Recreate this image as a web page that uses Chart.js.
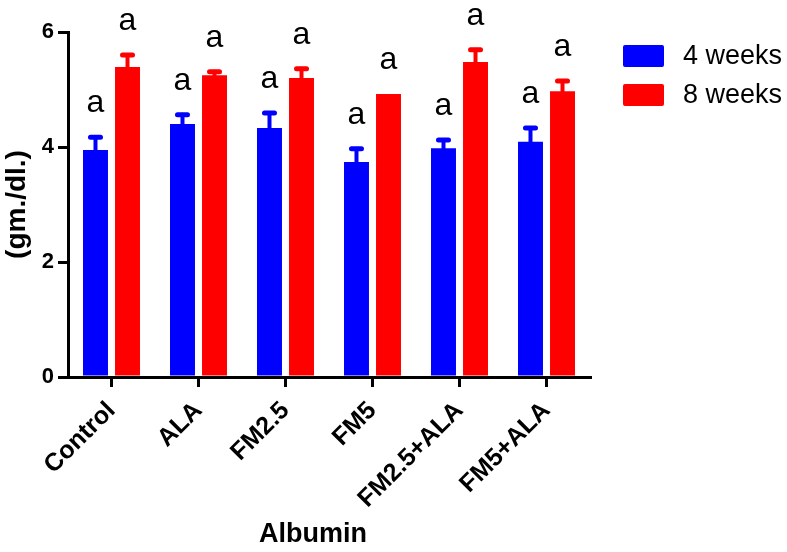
<!DOCTYPE html>
<html>
<head>
<meta charset="utf-8">
<script src="https://cdn.jsdelivr.net/npm/chart.js@4.4.0/dist/chart.umd.min.js"></script>
<style>
  html, body { margin: 0; padding: 0; background: #fff; }
  #albumin { display: block; }
</style>
</head>
<body>
<canvas id="albumin" width="787" height="552"></canvas>
<script>
// values (gm./dl.)
const groups = ['Control', 'ALA', 'FM2.5', 'FM5', 'FM2.5+ALA', 'FM5+ALA'];
const week4 = [3.95, 4.40, 4.33, 3.74, 3.98, 4.09];
const week4Err = [0.22, 0.16, 0.26, 0.23, 0.14, 0.24];
const week8 = [5.39, 5.25, 5.20, 4.92, 5.48, 4.97];
const week8Err = [0.21, 0.06, 0.16, 0.00, 0.21, 0.18];
const week4Marks = ['a', 'a', 'a', 'a', 'a', 'a'];
const week8Marks = ['a', 'a', 'a', 'a', 'a', 'a'];
const yTicks = [0, 2, 4, 6];
const xTitle = 'Albumin';

const FONT = 'Liberation Sans, Arial, Helvetica, sans-serif';

const errorBars = {
    id: 'errorBars',
    afterDatasetsDraw(chart) {
        const ctx = chart.ctx;
        const y = chart.scales.y;
        chart.data.datasets.forEach((ds, d) => {
            const meta = chart.getDatasetMeta(d);
            meta.data.forEach((bar, i) => {
                const top = y.getPixelForValue(ds.data[i] + ds.errors[i]);
                ctx.save();
                ctx.strokeStyle = ds.backgroundColor;
                ctx.lineCap = 'round';
                if (ds.errors[i] > 0) {
                    ctx.lineWidth = 4;
                    ctx.beginPath();
                    ctx.moveTo(bar.x, bar.y);
                    ctx.lineTo(bar.x, top);
                    ctx.stroke();
                    ctx.lineWidth = 5;
                    ctx.beginPath();
                    ctx.moveTo(bar.x - 5, top);
                    ctx.lineTo(bar.x + 5, top);
                    ctx.stroke();
                }
                ctx.fillStyle = '#000';
                ctx.font = '32px ' + FONT;
                ctx.textAlign = 'center';
                ctx.textBaseline = 'alphabetic';
                ctx.fillText(ds.marks[i], bar.x, top - 25);
                ctx.restore();
            });
        });
    }
};

// legend on the right and the x title (sits a little left of centre)
const extras = {
    id: 'extras',
    afterDraw(chart) {
        const ctx = chart.ctx;
        chart.data.datasets.forEach((ds, d) => {
            const top = 45 + d * 39;
            ctx.save();
            ctx.fillStyle = ds.backgroundColor;
            ctx.beginPath();
            ctx.roundRect(623, top, 41, 22, 2);
            ctx.fill();
            ctx.fillStyle = '#000';
            ctx.font = '27px ' + FONT;
            ctx.textBaseline = 'middle';
            ctx.fillText(ds.label, 683, top + 12);
            ctx.restore();
        });
        ctx.save();
        ctx.fillStyle = '#000';
        ctx.font = 'bold 27px ' + FONT;
        ctx.textAlign = 'center';
        ctx.textBaseline = 'middle';
        ctx.fillText(xTitle, 313, 535);
        ctx.restore();
    }
};

new Chart(document.getElementById('albumin'), {
    type: 'bar',
    data: {
        labels: groups,
        datasets: [
            { label: '4 weeks', data: week4, errors: week4Err, marks: week4Marks, backgroundColor: '#0000ff' },
            { label: '8 weeks', data: week8, errors: week8Err, marks: week8Marks, backgroundColor: '#ff0000' }
        ]
    },
    options: {
        responsive: false,
        animation: false,
        layout: { padding: { top: 32, right: 197, left: 0, bottom: 0 } },
        categoryPercentage: 0.736,
        barPercentage: 0.78,
        plugins: { legend: { display: false }, tooltip: { enabled: false } },
        scales: {
            x: {
                grid: { display: true, drawOnChartArea: false, offset: false, tickLength: 10, lineWidth: 3, color: '#000' },
                border: { width: 3, color: '#000' },
                ticks: { minRotation: 45, maxRotation: 45, padding: 9, color: '#000', font: { family: FONT, size: 25, weight: 'bold' } },
                afterFit(scale) { scale.height = 175; }
            },
            y: {
                min: 0,
                max: 6,
                afterBuildTicks(scale) { scale.ticks = yTicks.map(v => ({ value: v })); },
                grid: { display: true, drawOnChartArea: false, tickLength: 10, lineWidth: 3, color: '#000' },
                border: { width: 3, color: '#000' },
                ticks: { padding: 4, color: '#000', font: { family: FONT, size: 22, weight: 'bold' } },
                title: { display: true, text: '(gm./dl.)', color: '#000', padding: { top: 0, bottom: 0 }, font: { family: FONT, size: 28, weight: 'bold' } },
                afterFit(scale) { scale.width = 68; }
            }
        }
    },
    plugins: [errorBars, extras]
});
</script>
</body>
</html>
